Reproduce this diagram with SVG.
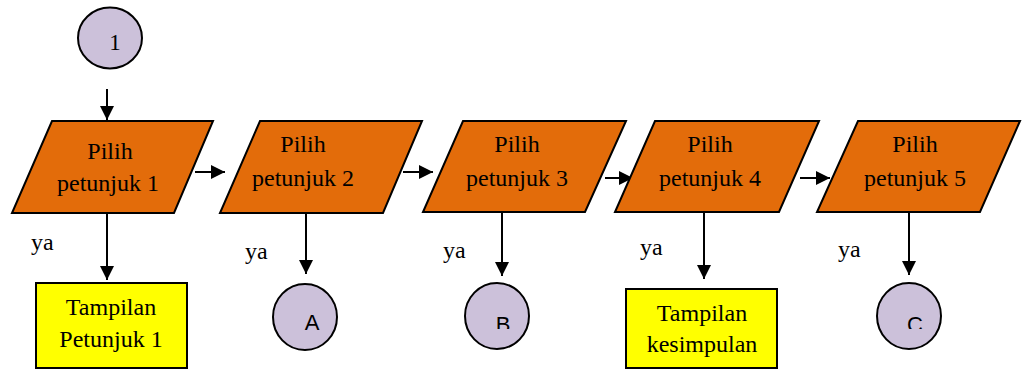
<svg xmlns="http://www.w3.org/2000/svg" width="1024" height="371" viewBox="0 0 1024 371">
  <style>
    .io { fill: #E36C0A; stroke: #000; stroke-width: 2; }
    .conn { fill: #CCC1DA; stroke: #000; stroke-width: 2; }
    .box { fill: #FFFF00; stroke: #000; stroke-width: 2; }
    .t { font-family: "Liberation Serif", "Times New Roman", serif; font-size: 24px; fill: #000; text-anchor: middle; }
    .lbl { font-family: "Liberation Serif", "Times New Roman", serif; font-size: 24px; fill: #000; }
    .s { font-family: "Liberation Sans", Arial, sans-serif; font-size: 22px; fill: #000; text-anchor: middle; }
    .edge { stroke: #000; stroke-width: 2; fill: none; marker-end: url(#arrow); }
  </style>
  <defs>
    <marker id="arrow" viewBox="0 0 12 12" refX="12" refY="6" markerWidth="7" markerHeight="7" orient="auto" markerUnits="strokeWidth">
      <path d="M0,0 L12,6 L0,12 Z" fill="#000"/>
    </marker>
    <clipPath id="cutB"><rect x="470" y="290" width="60" height="39"/></clipPath>
    <clipPath id="cutC"><rect x="880" y="290" width="60" height="39"/></clipPath>
  </defs>

  <rect width="1024" height="371" fill="#fff"/>

  <!-- connectors -->
  <g id="connectors">
    <line class="edge" x1="107" y1="89" x2="107" y2="120"/>
    <line class="edge" x1="195" y1="172" x2="225" y2="172"/>
    <line class="edge" x1="403" y1="172" x2="433" y2="172"/>
    <line class="edge" x1="605" y1="178" x2="633" y2="178"/>
    <line class="edge" x1="800" y1="178" x2="830" y2="178"/>
    <line class="edge" x1="107" y1="213" x2="107" y2="280"/>
    <line class="edge" x1="306" y1="213" x2="306" y2="274"/>
    <line class="edge" x1="502" y1="213" x2="502" y2="276"/>
    <line class="edge" x1="704" y1="212" x2="704" y2="279"/>
    <line class="edge" x1="909" y1="212" x2="909" y2="275"/>
  </g>

  <!-- labels on the "ya" branches -->
  <g id="labels">
    <text class="lbl" x="31" y="250">ya</text>
    <text class="lbl" x="245" y="259">ya</text>
    <text class="lbl" x="443" y="258">ya</text>
    <text class="lbl" x="640" y="255">ya</text>
    <text class="lbl" x="838" y="257">ya</text>
  </g>

  <g id="start1">
    <ellipse class="conn" cx="110" cy="38" rx="32" ry="30.5"/>
    <text class="t" x="115" y="50" style="font-size:23px">1</text>
  </g>

  <g id="pilih1">
    <polygon class="io" points="52,121 213,121 174,213 12,213"/>
    <text class="t" x="110" y="159">Pilih</text>
    <text class="t" x="108" y="191">petunjuk 1</text>
  </g>

  <g id="pilih2">
    <polygon class="io" points="260,121 422,121 383,213 220,213"/>
    <text class="t" x="303" y="152">Pilih</text>
    <text class="t" x="303" y="186">petunjuk 2</text>
  </g>

  <g id="pilih3">
    <polygon class="io" points="463,121 626,121 585,212 423,212"/>
    <text class="t" x="517" y="152">Pilih</text>
    <text class="t" x="517" y="186">petunjuk 3</text>
  </g>

  <g id="pilih4">
    <polygon class="io" points="655,121 819,121 779,212 615,212"/>
    <text class="t" x="710" y="152">Pilih</text>
    <text class="t" x="710" y="186">petunjuk 4</text>
  </g>

  <g id="pilih5">
    <polygon class="io" points="858,121 1020,121 980,212 817,212"/>
    <text class="t" x="915" y="152">Pilih</text>
    <text class="t" x="915" y="186">petunjuk 5</text>
  </g>

  <g id="tampilan1">
    <rect class="box" x="36" y="283" width="151" height="85"/>
    <text class="t" x="111" y="315">Tampilan</text>
    <text class="t" x="111" y="347">Petunjuk 1</text>
  </g>

  <g id="connA">
    <ellipse class="conn" cx="305" cy="317" rx="32" ry="33"/>
    <text class="s" x="312" y="330">A</text>
  </g>

  <g id="connB">
    <ellipse class="conn" cx="497" cy="316" rx="32" ry="33"/>
    <text class="s" x="503" y="332" clip-path="url(#cutB)">B</text>
  </g>

  <g id="tampilanKesimpulan">
    <rect class="box" x="626" y="289" width="151" height="79"/>
    <text class="t" x="702" y="321">Tampilan</text>
    <text class="t" x="702" y="352">kesimpulan</text>
  </g>

  <g id="connC">
    <ellipse class="conn" cx="909" cy="316" rx="32" ry="33"/>
    <text class="s" x="915" y="332" clip-path="url(#cutC)">C</text>
  </g>
</svg>
